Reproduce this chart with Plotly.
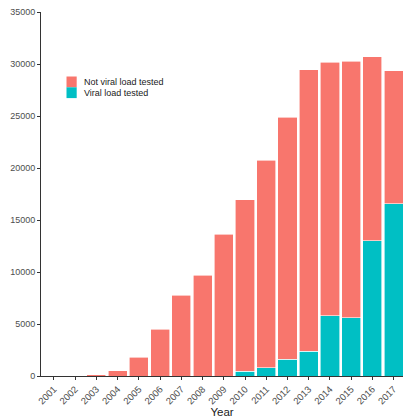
import plotly.graph_objects as go

years = [str(y) for y in range(2001, 2018)]
not_tested = [0, 0, 120, 500, 1800, 4500, 7750, 9700, 13650, 16500, 19950,
              23300, 27050, 24350, 24650, 17700, 12800]
tested = [0, 0, 0, 0, 0, 0, 0, 0, 0, 450, 800, 1600, 2400, 5800, 5600,
          13000, 16550]
series_names = ["Not viral load tested", "Viral load tested"]
series_colors = ["#F8766D", "#00BFC4"]
y_ticks = [0, 5000, 10000, 15000, 20000, 25000, 30000, 35000]

W, H = 403, 418
L, R, T, B = 41, 0, 12, 42
pw, ph = W - L - R, H - T - B

def px(x):
    return (x - L) / pw

def py(y):
    return (H - B - y) / ph

fig = go.Figure()
fig.add_trace(go.Bar(x=years, y=tested, name=series_names[1],
                     marker=dict(color=series_colors[1],
                                 line=dict(color="white", width=0.6))))
fig.add_trace(go.Bar(x=years, y=not_tested, name=series_names[0],
                     marker=dict(color=series_colors[0],
                                 line=dict(color="white", width=0.6))))

# legend drawn as keys + labels
for i, (name, col) in enumerate(zip(series_names, series_colors)):
    top = 76.5 + i * 10.8
    fig.add_shape(type="rect", xref="paper", yref="paper",
                  x0=px(66.5), x1=px(76.7), y0=py(top), y1=py(top + 10.8),
                  fillcolor=col, line=dict(width=0))
    fig.add_annotation(xref="paper", yref="paper", x=px(81.5), y=py(top + 5.6),
                       text=name, showarrow=False, xanchor="left",
                       yanchor="middle",
                       font=dict(size=9, color="#1a1a1a"))

fig.update_layout(
    barmode="stack", bargap=0.1, showlegend=False,
    width=W, height=H,
    margin=dict(l=L, r=R, t=T, b=B, autoexpand=False),
    paper_bgcolor="white", plot_bgcolor="white",
    font=dict(family="Liberation Sans, Arial, sans-serif"),
)
fig.update_xaxes(type="category", range=[-0.61, 16.44], tickangle=-45,
                 ticks="outside", ticklen=3, tickcolor="#333333",
                 showline=True, linecolor="#333333", linewidth=1,
                 showgrid=False, tickfont=dict(size=9.5, color="#4d4d4d"),
                 title=dict(text="Year", font=dict(size=11.5, color="#1a1a1a"),
                            standoff=6),
                 automargin=False)
fig.update_yaxes(range=[0, 35000], tickvals=y_ticks,
                 ticktext=[str(v) for v in y_ticks],
                 ticks="outside", ticklen=3, tickcolor="#333333",
                 showline=True, linecolor="#333333", linewidth=1,
                 showgrid=False, zeroline=False,
                 tickfont=dict(size=9, color="#4d4d4d"), automargin=False)

fig.write_html("out.html")
